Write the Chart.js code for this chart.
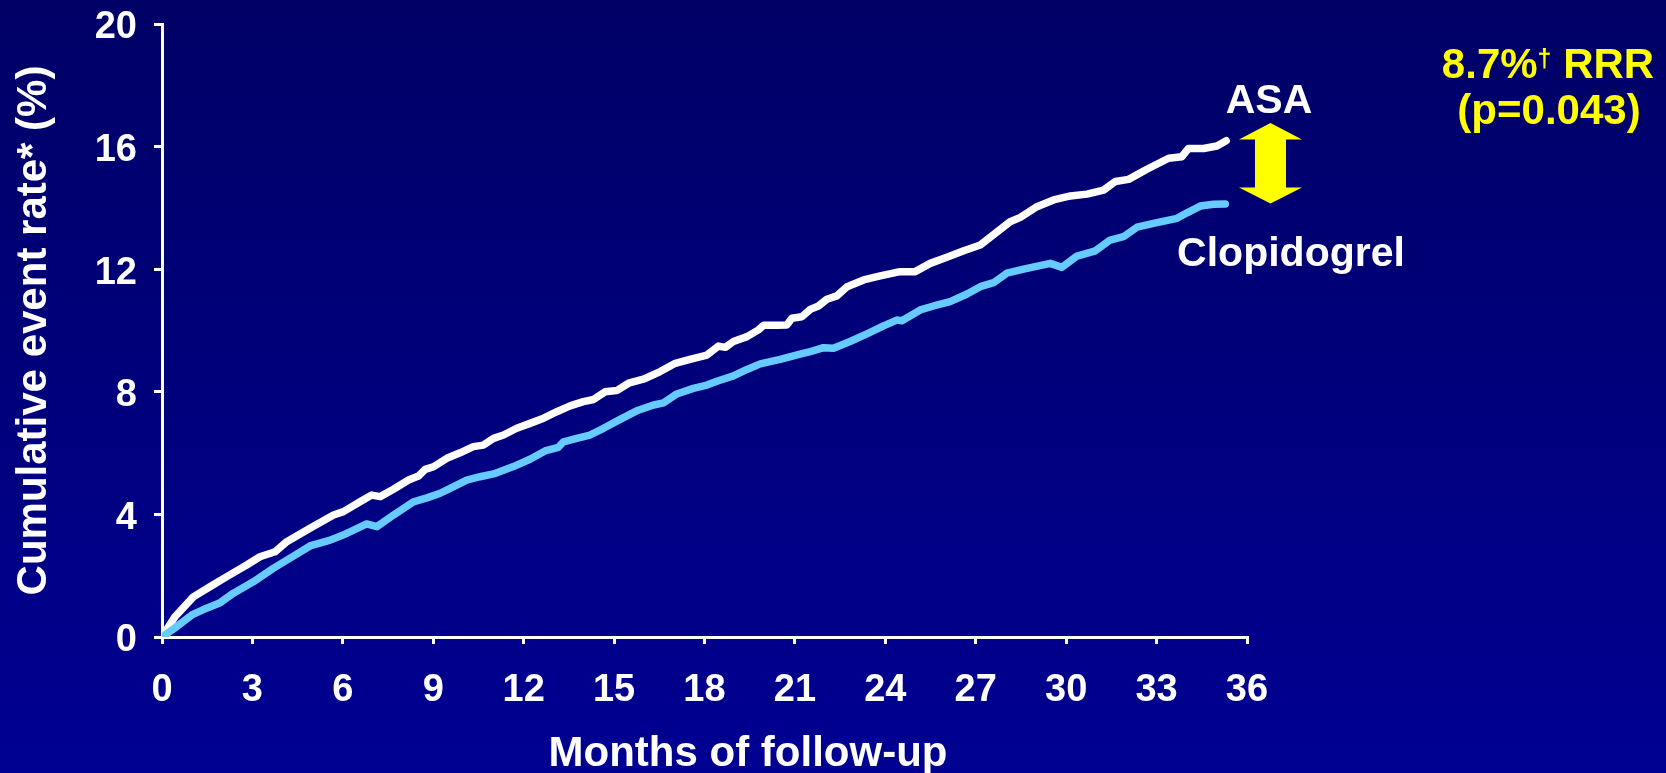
<!DOCTYPE html>
<html><head><meta charset="utf-8">
<script src="https://cdn.jsdelivr.net/npm/chart.js@4/dist/chart.umd.min.js"></script>
<style>
html,body{margin:0;padding:0;width:1666px;height:773px;overflow:hidden;background:linear-gradient(to bottom,#000066 0%,#000092 100%);}
canvas{display:block;}
</style></head><body>
<canvas id="c" width="1666" height="773"></canvas>
<script>
// ---- data ----
const asaMonths = [0,0.43,1.04,1.59,2.15,2.81,3.25,3.75,4.14,4.91,5.69,6.02,6.57,6.96,7.24,7.68,8.18,8.51,8.73,9.0,9.45,9.89,10.33,10.66,11.0,11.33,11.77,12.21,12.66,13.1,13.54,13.98,14.32,14.7,15.09,15.48,15.97,16.53,17.03,17.52,18.08,18.46,18.69,18.96,19.41,19.79,19.96,20.4,20.73,20.9,21.23,21.51,21.78,22.06,22.39,22.73,23.28,23.83,24.49,24.99,25.49,26.04,26.6,27.15,27.65,28.14,28.48,29.03,29.58,30.14,30.69,31.24,31.63,32.07,32.68,33.4,33.84,34.06,34.56,35.0,35.31];
const asaRate = [0,0.66,1.31,1.64,1.97,2.35,2.62,2.78,3.11,3.55,3.98,4.09,4.41,4.63,4.58,4.82,5.12,5.25,5.47,5.55,5.83,6.01,6.21,6.26,6.48,6.59,6.81,6.97,7.14,7.35,7.54,7.68,7.75,8.0,8.04,8.28,8.41,8.66,8.93,9.06,9.2,9.49,9.45,9.64,9.8,10.02,10.17,10.17,10.18,10.4,10.45,10.69,10.8,11.02,11.13,11.43,11.65,11.78,11.92,11.92,12.19,12.39,12.6,12.79,13.17,13.55,13.69,14.04,14.26,14.39,14.45,14.58,14.86,14.93,15.26,15.62,15.67,15.94,15.94,16.02,16.19];
const clopMonths = [0,0.49,0.99,1.48,1.93,2.37,3.03,3.69,4.36,4.91,5.58,6.13,6.79,7.13,7.68,8.34,8.79,9.23,9.56,10.11,10.55,11.0,11.66,12.21,12.71,13.15,13.32,13.76,14.2,14.65,15.2,15.75,16.31,16.64,17.08,17.63,18.08,18.46,18.96,19.41,19.85,20.51,21.17,21.51,21.95,22.28,22.83,23.39,23.94,24.38,24.55,25.16,25.6,26.15,26.71,27.15,27.59,28.03,28.59,29.47,29.86,30.36,30.97,31.46,31.9,32.35,33.01,33.68,34.01,34.45,34.89,35.28];
const clopRate = [0,0.34,0.72,0.94,1.12,1.43,1.8,2.24,2.64,2.97,3.16,3.38,3.69,3.6,3.98,4.41,4.54,4.69,4.85,5.12,5.23,5.32,5.56,5.8,6.07,6.19,6.37,6.48,6.59,6.81,7.1,7.38,7.57,7.64,7.93,8.11,8.22,8.36,8.52,8.73,8.91,9.06,9.23,9.31,9.44,9.42,9.64,9.89,10.15,10.34,10.32,10.67,10.8,10.94,11.19,11.43,11.56,11.87,12.0,12.19,12.06,12.43,12.6,12.95,13.06,13.37,13.52,13.66,13.84,14.06,14.12,14.13];
const monthTicks = [0,3,6,9,12,15,18,21,24,27,30,33,36];
const rateTicks = [0,4,8,12,16,20];
const seriesNames = ['ASA','Clopidogrel'];
const xTitle = 'Months of follow-up';
const yTitle = 'Cumulative event rate* (%)';
const rrrMain = '8.7%', rrrMark = '\u2020', rrrTail = ' RRR';
const pText = '(p=0.043)';

const FAM = '"Liberation Sans", Arial, sans-serif';
Chart.defaults.font.family = FAM;

const annot = {
  id: 'annot',
  afterDraw(chart) {
    const ctx = chart.ctx;
    ctx.save();
    ctx.textBaseline = 'alphabetic';
    ctx.textAlign = 'center';
    ctx.fillStyle = '#FFFFFF';
    ctx.font = 'bold 41px ' + FAM;
    ctx.fillText(seriesNames[0], 1269, 113);
    ctx.fillText(seriesNames[1], 1291, 266);
    ctx.font = 'bold 42px ' + FAM;
    ctx.fillText(xTitle, 748, 766);
    // double arrow
    ctx.fillStyle = '#FFFF00';
    ctx.beginPath();
    ctx.moveTo(1270.5, 123); ctx.lineTo(1302, 139.5); ctx.lineTo(1286, 139.5);
    ctx.lineTo(1286, 187.5); ctx.lineTo(1302, 187.5); ctx.lineTo(1270.5, 203.5);
    ctx.lineTo(1239, 187.5); ctx.lineTo(1255, 187.5); ctx.lineTo(1255, 139.5);
    ctx.lineTo(1239, 139.5); ctx.closePath(); ctx.fill();
    // RRR text
    ctx.textAlign = 'left';
    const big = 'bold 42px ' + FAM, small = 'bold 25px ' + FAM;
    ctx.font = big; const w1 = ctx.measureText(rrrMain).width, w3 = ctx.measureText(rrrTail).width;
    ctx.font = small; const w2 = ctx.measureText(rrrMark).width;
    let x0 = 1548 - (w1 + w2 + w3) / 2;
    ctx.font = big; ctx.fillText(rrrMain, x0, 78);
    ctx.font = small; ctx.fillText(rrrMark, x0 + w1, 67);
    ctx.font = big; ctx.fillText(rrrTail, x0 + w1 + w2, 78);
    ctx.textAlign = 'center';
    ctx.fillText(pText, 1549, 124);
    ctx.restore();
  }
};

function noPad(s) { s.paddingTop = 0; s.paddingBottom = 0; s.paddingLeft = 0; s.paddingRight = 0; }

new Chart(document.getElementById('c'), {
  type: 'line',
  data: {
    datasets: [
      { label: seriesNames[0], data: asaMonths.map((m, i) => ({x: m, y: asaRate[i]})),
        borderColor: '#FFFFFF', borderWidth: 7.5, pointRadius: 0, tension: 0,
        borderJoinStyle: 'round', borderCapStyle: 'round', fill: false, order: 2 },
      { label: seriesNames[1], data: clopMonths.map((m, i) => ({x: m, y: clopRate[i]})),
        borderColor: '#66CCFF', borderWidth: 7.5, pointRadius: 0, tension: 0,
        borderJoinStyle: 'round', borderCapStyle: 'round', fill: false, order: 1 }
    ]
  },
  options: {
    responsive: false, animation: false, devicePixelRatio: 1,
    layout: { padding: { left: 0, right: 419, top: 24, bottom: 0 } },
    plugins: { legend: { display: false }, tooltip: { enabled: false }, title: { display: false } },
    scales: {
      x: {
        type: 'linear', min: 0, max: 36,
        afterBuildTicks: s => { s.ticks = monthTicks.map(v => ({value: v})); },
        afterFit: s => { s.height = 136; noPad(s); },
        ticks: { color: '#FFFFFF', font: { size: 38, weight: 'bold' }, padding: 24, maxRotation: 0, autoSkip: false },
        grid: { drawOnChartArea: false, drawTicks: true, tickLength: 7, color: '#FFFFFF', lineWidth: 3 },
        border: { display: true, color: '#FFFFFF', width: 3 }
      },
      y: {
        type: 'linear', min: 0, max: 20,
        afterBuildTicks: s => { s.ticks = rateTicks.map(v => ({value: v})); },
        afterFit: s => { s.width = 162; noPad(s); },
        ticks: { color: '#FFFFFF', font: { size: 38, weight: 'bold' }, padding: 17, labelOffset: 4 },
        grid: { drawOnChartArea: false, drawTicks: true, tickLength: 8, color: '#FFFFFF', lineWidth: 3 },
        border: { display: true, color: '#FFFFFF', width: 3 },
        title: { display: true, text: yTitle, color: '#FFFFFF', font: { size: 42, weight: 'bold', lineHeight: 1.2 }, padding: { top: 9, bottom: 0 } }
      }
    }
  },
  plugins: [annot]
});
</script>
</body></html>
